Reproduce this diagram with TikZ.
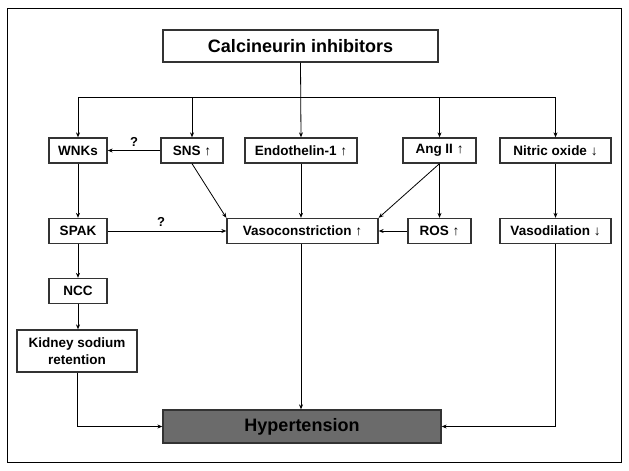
\documentclass[tikz,border=0pt]{standalone}
\usepackage{fontspec}
\setmainfont{Liberation Sans}
\usetikzlibrary{arrows.meta}
\begin{document}
\begin{tikzpicture}[x=1pt,y=-1pt,
  box/.style={draw=black!80,line width=1.3pt,fill=white,minimum height=25pt,inner sep=0pt,font=\bfseries\fontsize{13.5}{16.5}\selectfont},
  arr/.style={-{Stealth[length=5pt,width=4pt]},line width=0.8pt},
  ln/.style={line width=0.8pt},
  qm/.style={font=\bfseries\fontsize{13}{15}\selectfont,inner sep=0pt}]
\useasboundingbox (0,0) rectangle (629,471);
\draw[line width=1pt] (7,8) rectangle (621,462);
\node[box,minimum width=275pt,minimum height=32pt,font=\bfseries\fontsize{18}{20}\selectfont] (calc) at (300.5,46) {Calcineurin inhibitors};
\node[box,minimum width=58pt] (wnk) at (78,150.5) {WNKs};
\node[box,minimum width=62pt] (sns) at (192,150.5) {SNS ↑};
\node[box,minimum width=112pt] (endo) at (301,150.5) {Endothelin-1 ↑};
\node[box,minimum width=73pt] (ang) at (439.5,150.5) {Ang II ↑};
\node[box,minimum width=111pt] (no) at (555.5,150.5) {Nitric oxide ↓};
\node[box,minimum width=58pt] (spak) at (78,231) {SPAK};
\node[box,minimum width=151pt] (vaso) at (302.5,231) {Vasoconstriction ↑};
\node[box,minimum width=63pt] (ros) at (439.5,231) {ROS ↑};
\node[box,minimum width=111pt] (vdil) at (555.5,231) {Vasodilation ↓};
\node[box,minimum width=58pt] (ncc) at (78,291) {NCC};
\node[box,minimum width=120pt,minimum height=42pt,align=center] (kid) at (77,351) {Kidney sodium\\retention};
\node[box,fill=black!58,minimum width=278pt,minimum height=33pt,font=\bfseries\fontsize{18}{20}\selectfont] (hyp) at (302,426.5) {Hypertension};
\coordinate (bus) at (0,97);
\draw[ln] (wnk.north|-bus) -- (no.north|-bus);
\draw[arr] (calc.south) -- (endo.north);
\draw[arr] (wnk.north|-bus) -- (wnk.north);
\draw[arr] (sns.north|-bus) -- (sns.north);
\draw[arr] (ang.north|-bus) -- (ang.north);
\draw[arr] (no.north|-bus) -- (no.north);
\draw[arr] (sns.west) -- (wnk.east) node[qm,midway,above=4pt] {?};
\draw[arr] (wnk.south) -- (spak.north);
\draw[arr] (spak.east) -- (vaso.west) node[qm,pos=0.45,above=4pt] {?};
\draw[arr] (sns.south) -- (vaso.north west);
\draw[arr] (endo.south) -- (vaso.north-|endo.south);
\draw[arr] (ang.south) -- (vaso.north east);
\draw[arr] (ang.south) -- (ros.north);
\draw[arr] (ros.west) -- (vaso.east);
\draw[arr] (no.south) -- (vdil.north);
\draw[arr] (spak.south) -- (ncc.north);
\draw[arr] (ncc.south) -- (kid.north-|ncc.south);
\draw[arr] (kid.south) |- (hyp.west);
\draw[arr] (vaso.south-|endo.south) -- (hyp.north-|endo.south);
\draw[arr] (vdil.south) |- (hyp.east);
\end{tikzpicture}
\end{document}
